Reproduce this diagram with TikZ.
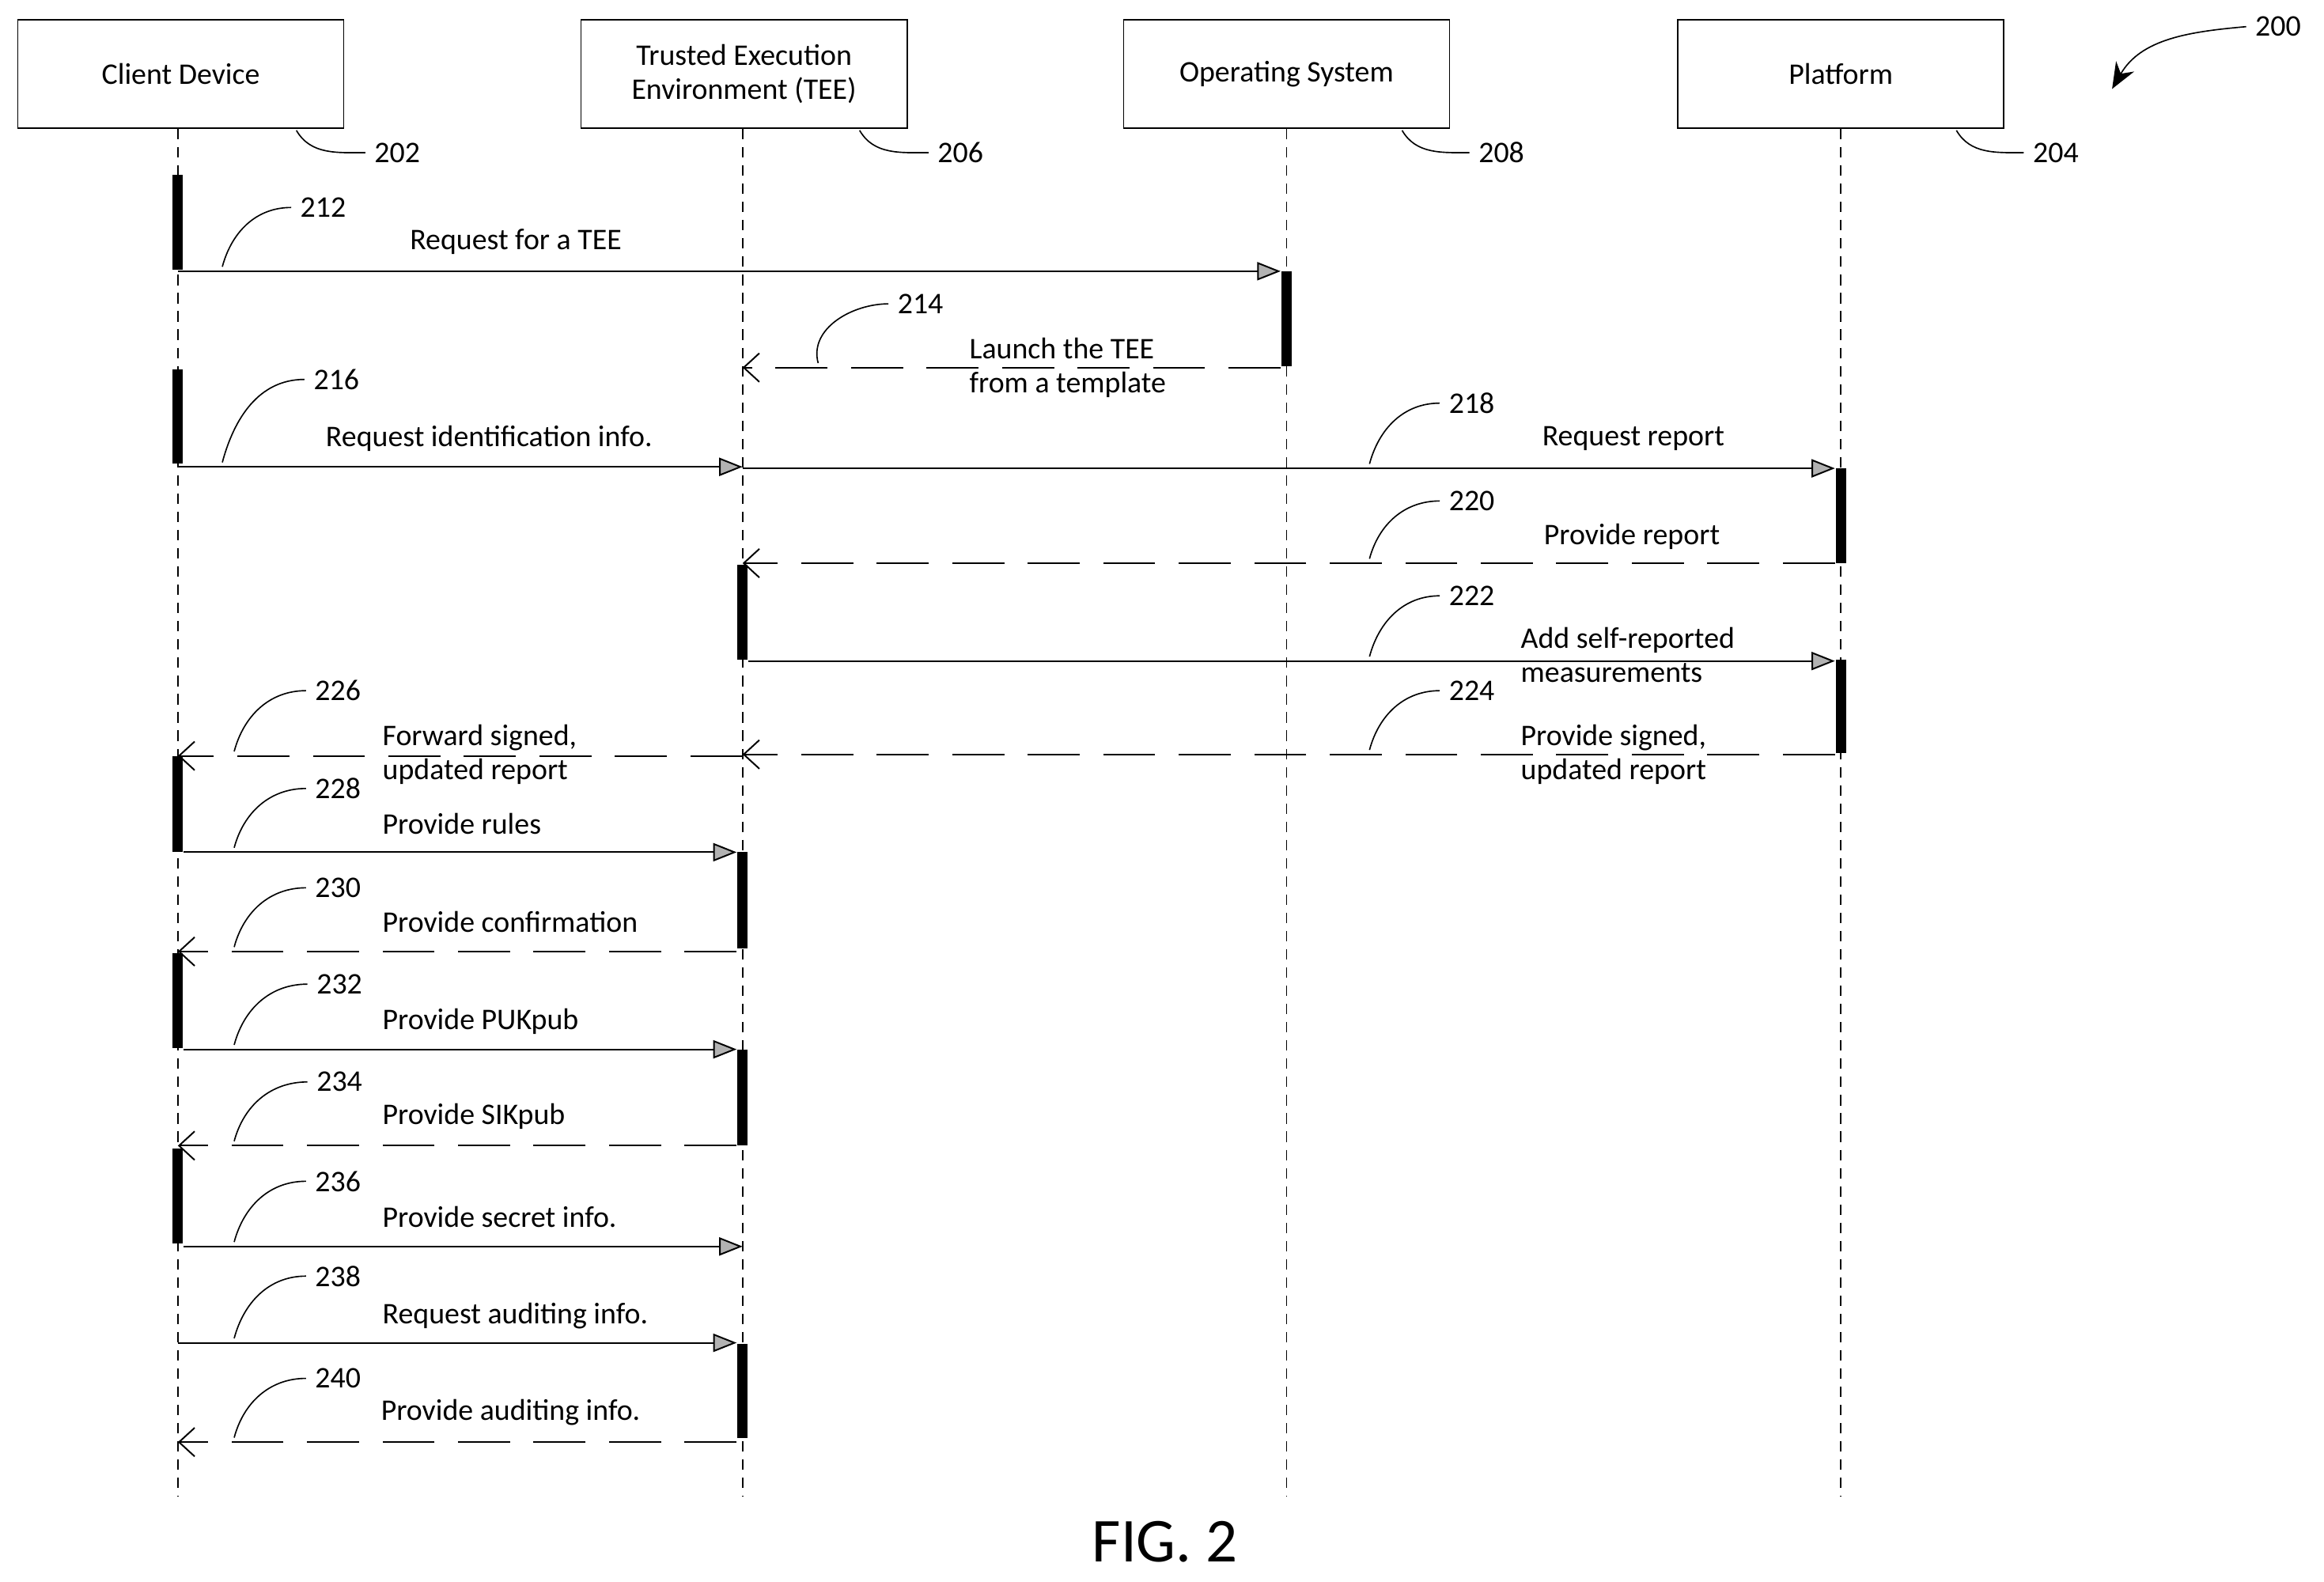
\documentclass[tikz,border=0pt]{standalone}
\usepackage{fontspec}
\setmainfont{Carlito}
\usetikzlibrary{arrows.meta}
\begin{document}
\begin{tikzpicture}[x=0.02cm, y=-0.02cm, font=\fontsize{11.5}{13}\selectfont,
  actor/.style={draw, line width=0.5pt, minimum width=4.4cm, minimum height=1.46cm, align=center},
  life/.style={line width=0.5pt, dash pattern=on 4pt off 3pt},
  bar/.style={line width=4pt},
  msg/.style={line width=0.6pt, -{Triangle[length=9pt,width=7pt,fill=gray!60]}},
  reply/.style={line width=0.6pt, dash pattern=on 20pt off 9pt, -{Straight Barb[length=6pt,width=11pt]}},
  lead/.style={line width=0.5pt},
  txt/.style={inner sep=1pt, align=left, font=\fontsize{11.5}{13.2}\selectfont}
]
\useasboundingbox (0,0) rectangle (1568,1067);

% participants
\node[actor] (cd) at (122,50) {Client Device};
\node[actor] (tee) at (502,50) {Trusted Execution\\Environment (TEE)};
\node[actor] (os) at (868,50) {Operating System};
\node[actor] (pf) at (1242,50) {Platform};

% lifelines
\draw[life] (120,87) -- (120,1010);
\draw[life] (501,87) -- (501,1010);
\draw[life] (868,87) -- (868,1010);
\draw[life] (1242,87) -- (1242,1010);

% reference numerals of the participants
\node (r202) at (268,103) {202};
\node (r206) at (648,103) {206};
\node (r208) at (1013,103) {208};
\node (r204) at (1387,103) {204};
\draw[lead] (200,88) to[out=-60,in=180] (r202.west);
\draw[lead] (580,88) to[out=-60,in=180] (r206.west);
\draw[lead] (946,88) to[out=-60,in=180] (r208.west);
\draw[lead] (1320,88) to[out=-60,in=180] (r204.west);
\node (r200) at (1537,18) {200};
\draw[lead, -{Stealth[length=10pt,width=8pt]}] (r200.west) to[out=185,in=60] (1425,60);

% activation bars
\draw[bar] (120,118) -- (120,182);
\draw[bar] (120,249) -- (120,313);
\draw[bar] (120,510) -- (120,575);
\draw[bar] (120,643) -- (120,707);
\draw[bar] (120,775) -- (120,839);
\draw[bar] (868,183) -- (868,247);
\draw[bar] (1242,316) -- (1242,380);
\draw[bar] (1242,445) -- (1242,508);
\draw[bar] (501,381) -- (501,445);
\draw[bar] (501,575) -- (501,640);
\draw[bar] (501,708) -- (501,773);
\draw[bar] (501,907) -- (501,970);

% message end points
\coordinate (c212) at (120,183); \coordinate (o212) at (864,183);
\coordinate (o214) at (864,248); \coordinate (t214) at (501,248);
\coordinate (c216) at (120,315); \coordinate (t216) at (501,315);
\coordinate (t218) at (501,316); \coordinate (p218) at (1238,316);
\coordinate (p220) at (1238,380); \coordinate (t220) at (501,380);
\coordinate (t222) at (505,446); \coordinate (p222) at (1238,446);
\coordinate (p224) at (1238,509); \coordinate (t224) at (501,509);
\coordinate (t226) at (501,510); \coordinate (c226) at (120,510);
\coordinate (c228) at (124,575); \coordinate (t228) at (497,575);
\coordinate (t230) at (497,642); \coordinate (c230) at (120,642);
\coordinate (c232) at (124,708); \coordinate (t232) at (497,708);
\coordinate (t234) at (497,773); \coordinate (c234) at (120,773);
\coordinate (c236) at (124,841); \coordinate (t236) at (501,841);
\coordinate (c238) at (120,906); \coordinate (t238) at (497,906);
\coordinate (t240) at (497,973); \coordinate (c240) at (120,973);

% messages
\draw[msg] (c212) -- (o212);
\draw[reply] (o214) -- (t214);
\draw[msg] (c216) -- (t216);
\draw[msg] (t218) -- (p218);
\draw[reply] (p220) -- (t220);
\draw[msg] (t222) -- (p222);
\draw[reply] (p224) -- (t224);
\draw[reply] (t226) -- (c226);
\draw[msg] (c228) -- (t228);
\draw[reply] (t230) -- (c230);
\draw[msg] (c232) -- (t232);
\draw[reply] (t234) -- (c234);
\draw[msg] (c236) -- (t236);
\draw[msg] (c238) -- (t238);
\draw[reply] (t240) -- (c240);

% message texts
\node[txt] (m212) at (348,163) {Request for a TEE};
\node[txt, anchor=west] (m214) at (652,248) {Launch the TEE\\from a template};
\node[txt] (m216) at (330,296) {Request identification info.};
\node[txt] (m218) at (1102,296) {Request report};
\node[txt] (m220) at (1101,362) {Provide report};
\node[txt, anchor=west] (m222) at (1024,442) {Add self-reported\\measurements};
\node[txt, anchor=west] (m224) at (1024,509) {Provide signed,\\updated report};
\node[txt, anchor=west] (m226) at (256,509) {Forward signed,\\updated report};
\node[txt, anchor=west] (m228) at (256,556) {Provide rules};
\node[txt, anchor=west] (m230) at (256,622) {Provide confirmation};
\node[txt, anchor=west] (m232) at (256,689) {Provide PUKpub};
\node[txt, anchor=west] (m234) at (256,753) {Provide SIKpub};
\node[txt, anchor=west] (m236) at (256,821) {Provide secret info.};
\node[txt, anchor=west] (m238) at (256,888) {Request auditing info.};
\node[txt, anchor=west] (m240) at (255,953) {Provide auditing info.};

% message numerals with leaders
\node (n212) at (218,140) {212};
\node (n214) at (621,205) {214};
\node (n216) at (227,256) {216};
\node (n218) at (993,272) {218};
\node (n220) at (993,338) {220};
\node (n222) at (993,402) {222};
\node (n224) at (993,466) {224};
\node (n226) at (228,466) {226};
\node (n228) at (228,532) {228};
\node (n230) at (228,599) {230};
\node (n232) at (229,664) {232};
\node (n234) at (229,730) {234};
\node (n236) at (228,797) {236};
\node (n238) at (228,861) {238};
\node (n240) at (228,930) {240};
\draw[lead] (150,180) to[out=75,in=180] (n212.west);
\draw[lead] (552,245) to[out=105,in=180] (n214.west);
\draw[lead] (150,312) to[out=75,in=180] (n216.west);
\draw[lead] (924,313) to[out=75,in=180] (n218.west);
\draw[lead] (924,377) to[out=75,in=180] (n220.west);
\draw[lead] (924,443) to[out=75,in=180] (n222.west);
\draw[lead] (924,506) to[out=75,in=180] (n224.west);
\draw[lead] (158,507) to[out=75,in=180] (n226.west);
\draw[lead] (158,572) to[out=75,in=180] (n228.west);
\draw[lead] (158,639) to[out=75,in=180] (n230.west);
\draw[lead] (158,705) to[out=75,in=180] (n232.west);
\draw[lead] (158,770) to[out=75,in=180] (n234.west);
\draw[lead] (158,838) to[out=75,in=180] (n236.west);
\draw[lead] (158,903) to[out=75,in=180] (n238.west);
\draw[lead] (158,970) to[out=75,in=180] (n240.west);

\node[font=\fontsize{24}{28}\selectfont] (fig) at (786,1040) {FIG. 2};
\end{tikzpicture}
\end{document}
